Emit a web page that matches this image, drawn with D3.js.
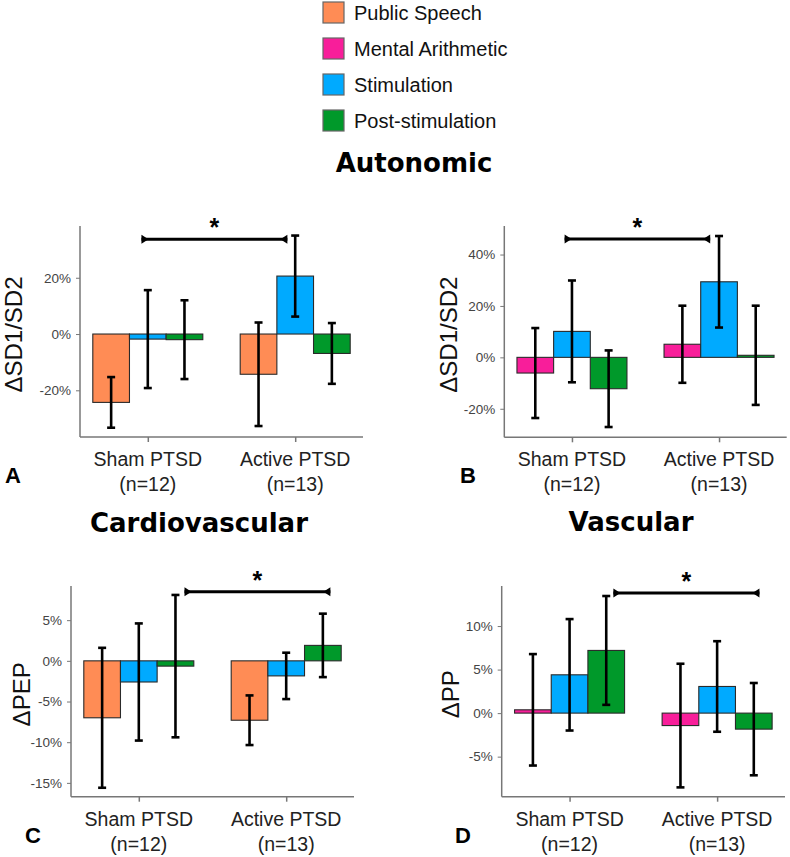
<!DOCTYPE html>
<html>
<head>
<meta charset="utf-8">
<script src="https://cdn.jsdelivr.net/npm/d3@7"></script>
<style>
  body { margin: 0; background: #fff; }
  svg { display: block; }
</style>
</head>
<body>
<svg id="chart" width="790" height="857"></svg>
<script>
// shared categories
const groups = ['Sham PTSD', 'Active PTSD'];
const groupSizes = ['(n=12)', '(n=13)'];
const conditions = ['Public Speech', 'Mental Arithmetic', 'Stimulation', 'Post-stimulation'];
const conditionColours = ['#ff8c55', '#f81e9a', '#00aaff', '#00992a'];

// A - autonomic, speech task
const condA = ['Public Speech', 'Stimulation', 'Post-stimulation'];
const meanA = [[-24.3, -1.8, -2.0], [-14.3, 20.6, -6.9]];
const errA = [[9.0, 17.4, 14.0], [18.4, 14.4, 10.8]];
const ticksA = [-20, 0, 20];
const domainA = [-36.6, 38.4];
const sigA = 33.7;

// B - autonomic, arithmetic task
const condB = ['Mental Arithmetic', 'Stimulation', 'Post-stimulation'];
const meanB = [[-6.1, 10.1, -12.2], [5.1, 29.4, 0.8]];
const errB = [[17.5, 19.8, 14.9], [15.0, 17.8, 19.3]];
const ticksB = [-20, 0, 20, 40];
const domainB = [-31.1, 51.1];
const sigB = 46;

// C - cardiovascular
const condC = ['Public Speech', 'Stimulation', 'Post-stimulation'];
const meanC = [[-7.0, -2.6, -0.65], [-7.3, -1.85, 1.9]];
const errC = [[8.6, 7.2, 8.75], [3.05, 2.85, 3.9]];
const ticksC = [-15, -10, -5, 0, 5];
const domainC = [-16.7, 9.2];
const sigC = 8.5;

// D - vascular
const condD = ['Mental Arithmetic', 'Stimulation', 'Post-stimulation'];
const meanD = [[0.38, 4.4, 7.2], [-1.43, 3.06, -1.84]];
const errD = [[6.4, 6.4, 6.25], [7.1, 5.2, 5.3]];
const ticksD = [-5, 0, 5, 10];
const domainD = [-9.6, 14.6];
const sigD = 13.8;

const colour = d3.scaleOrdinal().domain(conditions).range(conditionColours);

class BarPanel {
  constructor(_config) {
    this.config = {
      selection: _config.selection,
      x0: _config.x0,
      x1: _config.x1,
      top: _config.top,
      bottom: _config.bottom,
      yLabel: _config.yLabel,
      yLabelX: _config.yLabelX,
      letter: _config.letter,
      letterX: _config.letterX,
      sigShift: _config.sigShift || 0,
    }
    this.data = _config.data;
  }

  render() {
    let vis = this;
    const c = vis.config;
    const d = vis.data;

    vis.g = d3.select(c.selection).append('g');

    vis.x = d3.scalePoint().domain(groups).range([c.x0, c.x1]).padding(0.46);
    vis.y = d3.scaleLinear().domain(d.domain).range([c.bottom, c.top]);
    vis.sub = d3.scaleBand().domain(d.conditions).range([-55, 55]).padding(0);

    const rows = [];
    groups.forEach((grp, gi) => {
      d.conditions.forEach((cond, ci) => {
        rows.push({ grp: grp, cond: cond, mean: d.means[gi][ci], err: d.errors[gi][ci] });
      });
    });

    // bars
    vis.g.selectAll('.bar')
      .data(rows)
      .join('rect')
      .attr('class', 'bar')
      .attr('x', r => vis.x(r.grp) + vis.sub(r.cond))
      .attr('width', vis.sub.bandwidth())
      .attr('y', r => vis.y(Math.max(0, r.mean)))
      .attr('height', r => Math.abs(vis.y(r.mean) - vis.y(0)))
      .attr('fill', r => colour(r.cond))
      .attr('stroke', '#2a2a2a')
      .attr('stroke-width', 1.1);

    // error bars
    const eb = vis.g.selectAll('.err')
      .data(rows)
      .join('g')
      .attr('class', 'err')
      .attr('transform', r => `translate(${vis.x(r.grp) + vis.sub(r.cond) + vis.sub.bandwidth() / 2},0)`);
    eb.append('line')
      .attr('y1', r => vis.y(r.mean + r.err))
      .attr('y2', r => vis.y(r.mean - r.err))
      .attr('stroke', '#000').attr('stroke-width', 2.6);
    eb.append('line')
      .attr('x1', -4).attr('x2', 4)
      .attr('y1', r => vis.y(r.mean + r.err)).attr('y2', r => vis.y(r.mean + r.err))
      .attr('stroke', '#000').attr('stroke-width', 2.6);
    eb.append('line')
      .attr('x1', -4).attr('x2', 4)
      .attr('y1', r => vis.y(r.mean - r.err)).attr('y2', r => vis.y(r.mean - r.err))
      .attr('stroke', '#000').attr('stroke-width', 2.6);

    // y axis
    const yAxis = vis.g.append('g')
      .attr('transform', `translate(${c.x0},0)`)
      .call(d3.axisLeft(vis.y).tickValues(d.ticks).tickSize(4).tickPadding(5).tickFormat(v => v + '%'));
    yAxis.select('.domain').attr('d', `M0,${c.top}V${c.bottom}`).attr('stroke', '#777').attr('stroke-width', 1.5);
    yAxis.selectAll('.tick line').attr('stroke', '#777');
    yAxis.selectAll('.tick text')
      .attr('fill', '#444')
      .style('font-family', '"Liberation Sans", Arial, sans-serif')
      .style('font-size', '13.5px');

    // x axis
    const xAxis = vis.g.append('g')
      .attr('transform', `translate(0,${c.bottom})`)
      .call(d3.axisBottom(vis.x).tickSize(5).tickFormat(''));
    xAxis.select('.domain').attr('d', `M${c.x0},0H${c.x1}`).attr('stroke', '#777').attr('stroke-width', 1.5);
    xAxis.selectAll('.tick line').attr('stroke', '#777').attr('stroke-width', 1.5);

    groups.forEach((grp, gi) => {
      vis.g.append('text')
        .text(grp)
        .attr('x', vis.x(grp))
        .attr('y', c.bottom + 29)
        .attr('text-anchor', 'middle')
        .attr('fill', '#222')
        .style('font-size', '19.5px');
      vis.g.append('text')
        .text(groupSizes[gi])
        .attr('x', vis.x(grp))
        .attr('y', c.bottom + 54)
        .attr('text-anchor', 'middle')
        .attr('fill', '#222')
        .style('font-size', '19.5px');
    });

    // y label
    vis.g.append('text')
      .text(c.yLabel)
      .attr('transform', `translate(${c.yLabelX},${(c.top + c.bottom) / 2 + 3}) rotate(-90)`)
      .attr('text-anchor', 'middle')
      .attr('dominant-baseline', 'central')
      .attr('fill', '#111')
      .style('font-size', '24px');

    // panel letter
    vis.g.append('text')
      .text(c.letter)
      .attr('x', c.letterX)
      .attr('y', c.bottom + 46)
      .attr('fill', '#000')
      .style('font-weight', 'bold')
      .style('font-size', '22px');

    // significance bracket
    const step = vis.x.step();
    const xa = vis.x(groups[0]) + c.sigShift * step;
    const xb = vis.x(groups[1]) + c.sigShift * step - 1.5;
    const ys = vis.y(d.sig);
    vis.g.append('path')
      .attr('d', d3.line()([[xa, ys], [xb, ys]]))
      .attr('stroke', '#000')
      .attr('stroke-width', 3);
    vis.g.append('path')
      .attr('d', d3.line()([[xa, ys - 4.5], [xa, ys + 4.5], [xa + 7, ys]]) + 'Z')
      .attr('fill', '#000');
    vis.g.append('path')
      .attr('d', d3.line()([[xb, ys - 4.5], [xb, ys + 4.5], [xb - 7, ys]]) + 'Z')
      .attr('fill', '#000');
    vis.g.append('text')
      .text('*')
      .attr('x', (xa + xb) / 2)
      .attr('y', ys - 3)
      .attr('text-anchor', 'middle')
      .style('font-weight', 'bold')
      .style('font-size', '25px');
  }
}

const svg = d3.select('#chart')
  .style('font-family', '"Liberation Sans", Arial, sans-serif');

// Legend
const legend = svg.append('g');
conditions.forEach((cnd, i) => {
  const yc = 12.5 + 36 * i;
  legend.append('rect')
    .attr('x', 323).attr('y', yc - 10.5)
    .attr('width', 21).attr('height', 21)
    .attr('fill', colour(cnd))
    .attr('stroke', '#666')
    .attr('stroke-width', 1.2);
  legend.append('text')
    .text(cnd)
    .attr('x', 354)
    .attr('y', yc + 7)
    .attr('fill', '#111')
    .style('font-size', '20px');
});

// Section titles
const titles = [['Autonomic', 414, 172], ['Cardiovascular', 199, 531.5], ['Vascular', 631, 531]];
titles.forEach(t => {
  svg.append('text')
    .text(t[0])
    .attr('x', t[1]).attr('y', t[2])
    .attr('text-anchor', 'middle')
    .style('font-family', '"DejaVu Sans", sans-serif')
    .style('font-weight', 'bold')
    .style('font-size', '26px');
});

new BarPanel({
  selection: '#chart', x0: 80, x1: 363, top: 226, bottom: 437,
  yLabel: 'ΔSD1/SD2', yLabelX: 13, letter: 'A', letterX: 5, sigShift: -0.043,
  data: { conditions: condA, means: meanA, errors: errA, ticks: ticksA, domain: domainA, sig: sigA }
}).render();

new BarPanel({
  selection: '#chart', x0: 504.3, x1: 786.7, top: 226, bottom: 437.3,
  yLabel: 'ΔSD1/SD2', yLabelX: 448, letter: 'B', letterX: 460, sigShift: -0.05,
  data: { conditions: condB, means: meanB, errors: errB, ticks: ticksB, domain: domainB, sig: sigB }
}).render();

new BarPanel({
  selection: '#chart', x0: 71, x1: 354, top: 586, bottom: 796.7,
  yLabel: 'ΔPEP', yLabelX: 21, letter: 'C', letterX: 25, sigShift: 0.31,
  data: { conditions: condC, means: meanC, errors: errC, ticks: ticksC, domain: domainC, sig: sigC }
}).render();

new BarPanel({
  selection: '#chart', x0: 501.7, x1: 785, top: 586, bottom: 796.7,
  yLabel: 'ΔPP', yLabelX: 450, letter: 'D', letterX: 455, sigShift: 0.297,
  data: { conditions: condD, means: meanD, errors: errD, ticks: ticksD, domain: domainD, sig: sigD }
}).render();
</script>
</body>
</html>
